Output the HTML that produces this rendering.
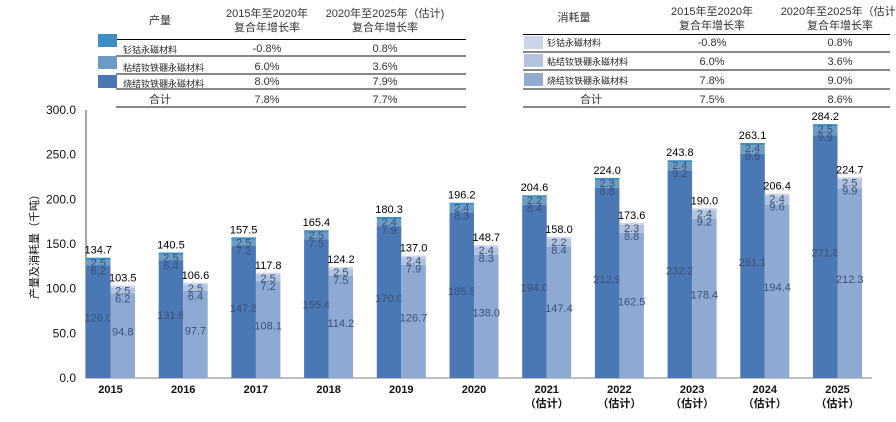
<!DOCTYPE html>
<html><head><meta charset="utf-8"><style>
html,body{margin:0;padding:0;background:#fff;width:896px;height:422px;overflow:hidden}
svg{font-family:"Liberation Sans","Noto Sans CJK SC",sans-serif}
</style></head><body>
<svg id="s" width="896" height="422" viewBox="0 0 896 422" xmlns="http://www.w3.org/2000/svg">
<g font-size="11" fill="#333" text-anchor="middle">
<text x="160" y="24">产量</text>
<text x="267" y="17">2015年至2020年</text><text x="267" y="31">复合年增长率</text>
<text x="385" y="17">2020年至2025年（估计)</text><text x="385" y="31">复合年增长率</text>
<text x="574" y="21">消耗量</text>
<text x="712" y="15">2015年至2020年</text><text x="712" y="29">复合年增长率</text>
<text x="840" y="15">2020年至2025年（估计)</text><text x="840" y="29">复合年增长率</text>
</g>
<g stroke="#000" stroke-width="1"><line x1="116" y1="39.5" x2="466" y2="39.5"/><line x1="523" y1="34.5" x2="890" y2="34.5"/></g>
<g stroke="#888" stroke-width="2">
<line x1="116" y1="56" x2="466" y2="56"/><line x1="116" y1="74" x2="466" y2="74"/><line x1="116" y1="89" x2="466" y2="89"/><line x1="116" y1="107" x2="466" y2="107"/>
<line x1="523" y1="52" x2="890" y2="52"/><line x1="523" y1="70" x2="890" y2="70"/><line x1="523" y1="89" x2="890" y2="89"/><line x1="523" y1="107" x2="890" y2="107"/>
</g>
<g>
<rect x="98" y="34" width="19" height="13" fill="#3d8fc2"/><rect x="98" y="56" width="19" height="13" fill="#6b9dc4"/><rect x="98" y="75" width="19" height="13" fill="#4a78b4"/>
<rect x="524" y="36" width="19" height="13" fill="#cbd4e8"/><rect x="524" y="54" width="19" height="13" fill="#b1c3df"/><rect x="524" y="73" width="19" height="13" fill="#94a9d0"/>
</g>
<g font-size="9" fill="#222">
<text x="123" y="53">钐钴永磁材料</text><text x="123" y="71">粘结钕铁硼永磁材料</text><text x="123" y="87">烧结钕铁硼永磁材料</text>
<text x="547" y="46">钐钴永磁材料</text><text x="547" y="65">粘结钕铁硼永磁材料</text><text x="547" y="84">烧结钕铁硼永磁材料</text>
</g>
<g font-size="11" fill="#333" text-anchor="middle">
<text x="267" y="52">-0.8%</text><text x="385" y="52">0.8%</text>
<text x="267" y="70">6.0%</text><text x="385" y="70">3.6%</text>
<text x="267" y="85">8.0%</text><text x="385" y="85">7.9%</text>
<text x="160" y="103">合计</text><text x="267" y="103">7.8%</text><text x="385" y="103">7.7%</text>
<text x="712" y="46">-0.8%</text><text x="840" y="46">0.8%</text>
<text x="712" y="65">6.0%</text><text x="840" y="65">3.6%</text>
<text x="712" y="84">7.8%</text><text x="840" y="84">9.0%</text>
<text x="591" y="103">合计</text><text x="712" y="103">7.5%</text><text x="840" y="103">8.6%</text>
</g>
<g id="chart"></g>
</svg>
<script>
var P=[[126.0,6.2,2.5,134.7],[131.6,6.4,2.5,140.5],[147.8,7.2,2.5,157.5],[155.4,7.5,2.5,165.4],[170.0,7.9,2.4,180.3],[185.5,8.3,2.4,196.2],[194.0,8.4,2.2,204.6],[212.9,8.8,2.3,224.0],[232.2,9.2,2.4,243.8],[251.1,9.6,2.4,263.1],[271.8,9.9,2.5,284.2]];
var C=[[94.8,6.2,2.5,103.5],[97.7,6.4,2.5,106.6],[108.1,7.2,2.5,117.8],[114.2,7.5,2.5,124.2],[126.7,7.9,2.4,137.0],[138.0,8.3,2.4,148.7],[147.4,8.4,2.2,158.0],[162.5,8.8,2.3,173.6],[178.4,9.2,2.4,190.0],[194.4,9.6,2.4,206.4],[212.3,9.9,2.5,224.7]];
function y(v){return 378-v*0.8933;}
var h='';
for(var t=0;t<=300;t+=50){h+='<text x="76" y="'+(y(t)+4)+'" font-size="12" text-anchor="end" fill="#111">'+t.toFixed(1)+'</text>';}
h+='<text transform="translate(38,244) rotate(-90)" font-size="11" text-anchor="middle" fill="#111">产量及消耗量（千吨）</text>';
h+='<line x1="86" y1="110" x2="86" y2="378" stroke="#888" stroke-width="1.5"/><line x1="86" y1="378" x2="872" y2="378" stroke="#aaa" stroke-width="1.5"/>';
function bar(x,d,cols){
 var b=0,s='';
 for(var i=0;i<3;i++){s+='<rect x="'+x+'" y="'+y(b+d[i])+'" width="24.5" height="'+(d[i]*0.8933)+'" fill="'+cols[i]+'"/>';b+=d[i];}
 var cx=x+12.25,top=y(d[3]);
 s+='<text x="'+cx+'" y="'+y(d[0]/2)+'" font-size="11" text-anchor="middle" fill="#3b4f78">'+d[0].toFixed(1)+'</text>';
 s+='<text x="'+cx+'" y="'+(top+17)+'" font-size="11" text-anchor="middle" fill="#3b4f78">'+d[1].toFixed(1)+'</text>';
 s+='<text x="'+cx+'" y="'+(top+9)+'" font-size="11" text-anchor="middle" fill="#3b4f78">'+d[2].toFixed(1)+'</text>';
 s+='<text x="'+cx+'" y="'+(top-4)+'" font-size="11" text-anchor="middle" fill="#000">'+d[3].toFixed(1)+'</text>';
 return s;}
for(var i=0;i<11;i++){
 var x0=86+i*72.7;
 h+=bar(x0,P[i],['#4a78b4','#6b9dc4','#3d8fc2']);
 h+=bar(x0+24.5,C[i],['#8eaad3','#b1c3df','#cbd4e8']);
 var lx=x0+24.5;
 h+='<text x="'+lx+'" y="393" font-size="11" font-weight="bold" text-anchor="middle" fill="#111">'+(2015+i)+'</text>';
 if(i>=6)h+='<text x="'+lx+'" y="407" font-size="11" font-weight="bold" text-anchor="middle" fill="#111">（估计）</text>';
}
document.getElementById('chart').innerHTML=h;
</script>
</body></html>
